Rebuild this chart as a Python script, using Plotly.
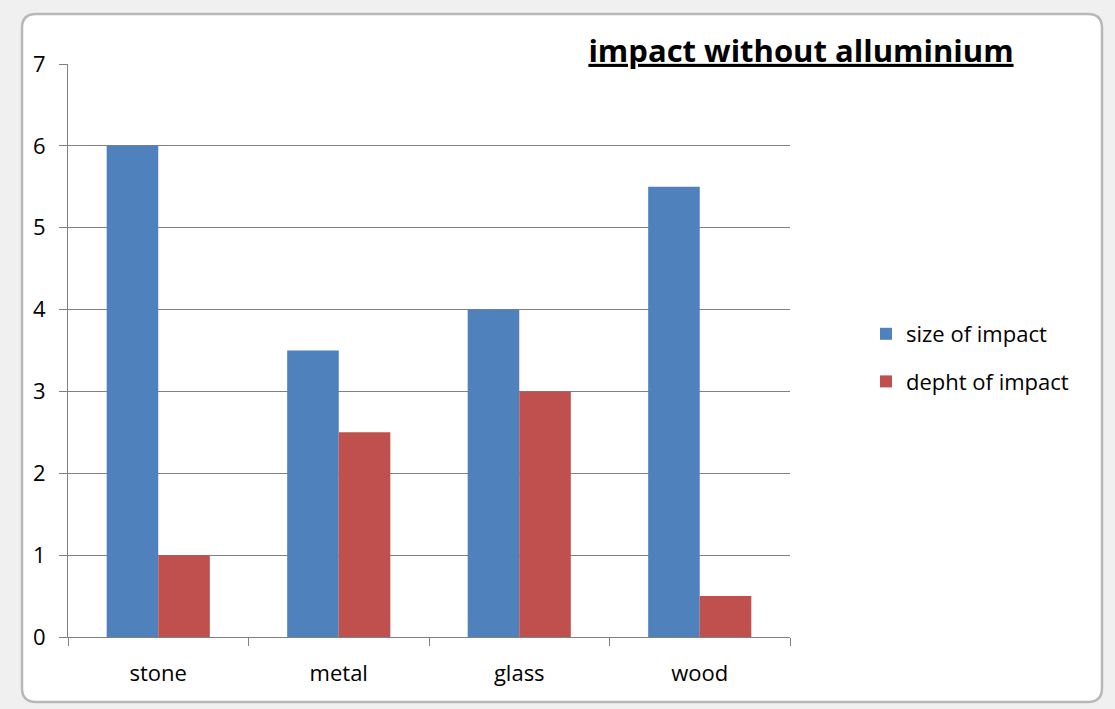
import plotly.graph_objects as go

# Chart data
categories = ["stone", "metal", "glass", "wood"]
size_of_impact = [6, 3.5, 4, 5.5]
depht_of_impact = [1, 2.5, 3, 0.5]
y_ticks = [0, 1, 2, 3, 4, 5, 6, 7]

W, H = 1115, 709
L, R, T, B = 68, 790, 64, 637  # plot area in pixels


def px(x):
    return (x - L) / (R - L)


def py(y):
    return (B - y) / (B - T)


def rounded_rect(x0, y0, x1, y1, r):
    return (
        f"M{px(x0 + r)},{py(y0)} L{px(x1 - r)},{py(y0)} "
        f"Q{px(x1)},{py(y0)} {px(x1)},{py(y0 + r)} "
        f"L{px(x1)},{py(y1 - r)} Q{px(x1)},{py(y1)} {px(x1 - r)},{py(y1)} "
        f"L{px(x0 + r)},{py(y1)} Q{px(x0)},{py(y1)} {px(x0)},{py(y1 - r)} "
        f"L{px(x0)},{py(y0 + r)} Q{px(x0)},{py(y0)} {px(x0 + r)},{py(y0)} Z"
    )


fig = go.Figure()
fig.add_trace(go.Bar(
    x=categories, y=size_of_impact, name="size of impact",
    marker=dict(color="#4F81BD", line=dict(width=0)), legendgroup="a",
))
fig.add_trace(go.Bar(
    x=categories, y=depht_of_impact, name="depht of impact",
    marker=dict(color="#C0504D", line=dict(width=0)), legendgroup="b",
))

font_family = "'Open Sans', Lato, sans-serif"

shapes = [
    # worksheet strip around the chart object
    dict(type="rect", xref="paper", yref="paper", x0=px(0), x1=px(W), y0=py(0), y1=py(H),
         fillcolor="#f0f0f0", line=dict(width=0), layer="below"),
    # chart frame
    dict(type="path", xref="paper", yref="paper", path=rounded_rect(22, 14, 1102, 702, 14),
         fillcolor="#ffffff", line=dict(color="#b8b8b8", width=2.5), layer="below"),
]

fig.update_layout(
    width=W, height=H, autosize=False,
    margin=dict(l=L, r=W - R, t=T, b=H - B, pad=0),
    paper_bgcolor="#ffffff",
    plot_bgcolor="rgba(0,0,0,0)",
    barmode="group",
    bargap=0.4286,
    bargroupgap=0,
    shapes=shapes,
    font=dict(family=font_family, color="#000000"),
    title=dict(
        text="<b><u>impact without alluminium</u></b>",
        x=801 / W, xref="container", xanchor="center",
        y=1 - 51 / H, yref="container", yanchor="middle",
        font=dict(size=31, color="#000000", family=font_family),
    ),
    legend=dict(
        x=px(866), y=py(313), xref="paper", yref="paper",
        xanchor="left", yanchor="top",
        font=dict(size=22, color="#000000"),
        bgcolor="rgba(0,0,0,0)",
        traceorder="grouped", tracegroupgap=16,
        itemwidth=30,
    ),
    xaxis=dict(
        showgrid=False,
        showline=True, linecolor="#808080", linewidth=1,
        ticks="outside", ticklen=8, tickcolor="#808080",
        tickson="boundaries",
        tickfont=dict(size=22, color="#000000"),
        ticklabelstandoff=17,
        fixedrange=True,
    ),
    yaxis=dict(
        range=[0, 7],
        tickvals=y_ticks,
        showgrid=True, gridcolor="#808080", gridwidth=1,
        showline=True, linecolor="#808080", linewidth=1,
        ticks="outside", ticklen=8, tickcolor="#808080",
        tickfont=dict(size=22, color="#000000"),
        ticklabelstandoff=9,
        zeroline=False,
        fixedrange=True,
    ),
)

fig.write_html("out.html")
